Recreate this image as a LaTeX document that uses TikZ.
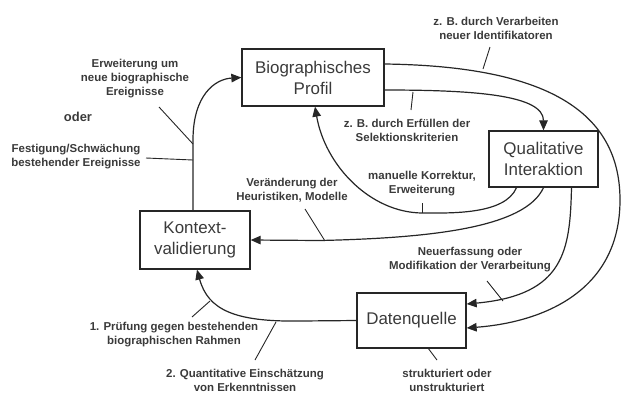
\documentclass[tikz,border=0pt]{standalone}
\usepackage{fontspec}
\setmainfont{Liberation Sans}
\usetikzlibrary{arrows.meta}
\definecolor{ink}{HTML}{262626}
\definecolor{txt}{HTML}{3A3A3A}
\begin{document}
\begin{tikzpicture}[x=1bp,y=-1bp,
  box/.style={draw=ink, line width=1.3bp, align=center, text=txt,
    font=\fontsize{17}{21}\selectfont, inner sep=0pt},
  lbl/.style={align=center, text=txt, inner sep=0pt,
    font=\bfseries\fontsize{11.5}{14}\selectfont},
  conn/.style={draw=ink, line width=1.2bp},
  arr/.style={conn, -{Triangle[length=10bp,width=8.5bp]}},
  tickline/.style={draw=ink, line width=0.9bp}]
\useasboundingbox (0,0) rectangle (623,392);

% boxes
\node[box, minimum width=142bp, minimum height=57bp] (bio) at (313,77.5) {Biographisches\\Profil};
\node[box, minimum width=109bp, minimum height=56bp] (qual) at (543.5,159) {Qualitative\\Interaktion};
\node[box, minimum width=110bp, minimum height=58bp] (kon) at (195,240) {Kontext-\\validierung};
\node[box, minimum width=109bp, minimum height=55bp] (dat) at (411.5,320.5) {Datenquelle};

% labels
\node[lbl] (l1) at (135,79) {Erweiterung um\\neue biographische\\Ereignisse};
\node[lbl, font=\bfseries\fontsize{13}{15}\selectfont] (oder) at (78,117) {oder};
\node[lbl] (l2) at (76,157) {Festigung/Schwächung\\bestehender Ereignisse};
\node[lbl] (l3) at (496,28) {z. B. durch Verarbeiten\\neuer Identifikatoren};
\node[lbl] (l4) at (407,130) {z. B. durch Erfüllen der\\Selektionskriterien};
\node[lbl] (l5) at (422,184) {manuelle Korrektur,\\Erweiterung};
\node[lbl] (l6) at (292,190) {Veränderung der\\Heuristiken, Modelle};
\node[lbl] (l7) at (470,260) {Neuerfassung oder\\Modifikation der Verarbeitung};
\node[lbl] (l8) at (174,335) {1. Prüfung gegen bestehenden\\biographischen Rahmen};
\node[lbl] (l9) at (245,380) {2. Quantitative Einschätzung\\von Erkenntnissen};
\node[lbl] (l10) at (447,380) {strukturiert oder\\unstrukturiert};

% connectors
\draw[arr] ([xshift=-2bp]kon.north) -- (193,140) .. controls (193,95) and (215,79) .. (bio.west);
\draw[arr] ([yshift=13.5bp]bio.east) .. controls (535,66) and (620,105) .. (620,200)
  .. controls (620,290) and (545,322) .. ([yshift=-7.5bp]dat.east);
\draw[arr] ([yshift=-12.5bp]bio.east) .. controls (475,90) and (543.5,95) .. (qual.north);
\draw[arr] ([xshift=-27bp]qual.south) .. controls (505,215) and (450,213) .. (423,213)
  .. controls (370,213) and (325,165) .. ([xshift=2bp]bio.south);
\draw[arr] (qual.south) .. controls (525,228) and (430,238) .. (320,240.5) -- (kon.east);
\draw[arr] ([xshift=28bp]qual.south) .. controls (570,250) and (565,295) .. ([yshift=16.5bp]dat.east);
\draw[arr] (dat.west) -- (300,321) .. controls (235,322) and (208,310) .. ([xshift=2bp]kon.south);

% label ticks
\coordinate (t1a) at (159,107); \coordinate (t1b) at (193,144);
\coordinate (t2a) at (146,158); \coordinate (t2b) at (193,160);
\coordinate (t3a) at (490,47);  \coordinate (t3b) at (483,69);
\coordinate (t4a) at (413,92);  \coordinate (t4b) at (411,110);
\coordinate (t5a) at (422,203); \coordinate (t5b) at (422,213);
\coordinate (t6a) at (305,209); \coordinate (t6b) at (325,241);
\coordinate (t7a) at (487,281); \coordinate (t7b) at (503,301);
\coordinate (t8a) at (192,317); \coordinate (t8b) at (210,301);
\coordinate (t9a) at (255,360); \coordinate (t9b) at (276,322);
\coordinate (t10a) at (428,348); \coordinate (t10b) at (437,360);
\foreach \t in {t1,t2,t3,t4,t5,t6,t7,t8,t9,t10}
  \draw[tickline] (\t a) -- (\t b);
\end{tikzpicture}
\end{document}
